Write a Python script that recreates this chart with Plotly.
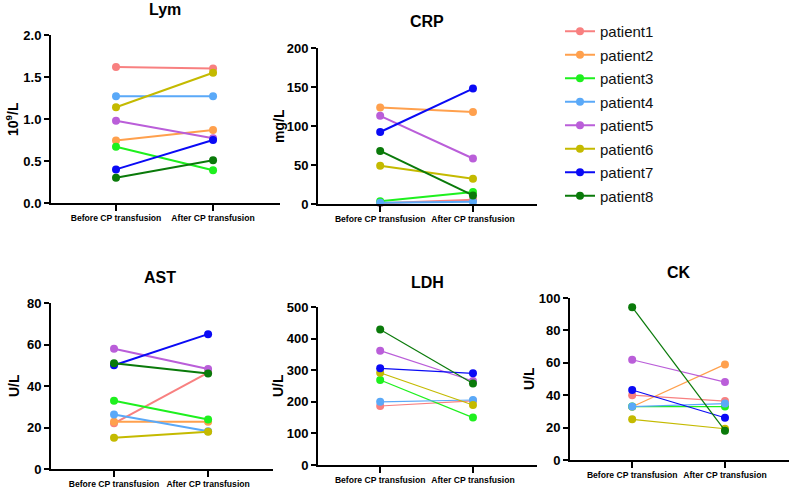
import plotly.graph_objects as go

categories = ["Before CP transfusion", "After CP transfusion"]
patients = ["patient1", "patient2", "patient3", "patient4",
            "patient5", "patient6", "patient7", "patient8"]
colors = ["#F88080", "#FFA04D", "#1EF01E", "#5AA9F8",
          "#BA5ED9", "#C4BA00", "#0A0AF5", "#0A7A0A"]

# values per patient: [before, after]
lym = [[1.62, 1.60], [0.745, 0.87], [0.67, 0.39], [1.27, 1.27],
       [0.98, 0.77], [1.14, 1.55], [0.40, 0.75], [0.30, 0.51]]
crp = [[1.0, 5.5], [123.8, 118.0], [3.4, 15.3], [1.7, 2.8],
       [113.0, 58.3], [48.9, 32.3], [92.3, 148.0], [68.0, 11.0]]
ast = [[22.0, 46.5], [22.8, 22.8], [32.9, 23.9], [26.3, 18.2],
       [58.0, 48.2], [15.1, 18.0], [50.0, 65.0], [51.0, 46.0]]
ldh = [[186.7, 203.0], [None, None], [269.0, 150.0], [200.0, 205.7],
       [361.8, 265.8], [292.0, 190.0], [306.0, 290.0], [429.0, 258.0]]
ck = [[40.0, 36.4], [32.9, 59.0], [33.0, 33.0], [33.0, 34.8],
      [61.9, 48.1], [25.1, 19.3], [43.2, 26.1], [94.3, 18.1]]

panels = [
    # name, data, unit, yrange, dtick, fmt, xdomain(px), ydomain(px top,bottom), line width, ytitle x
    ("Lym", lym, "10<sup>9</sup>/L", [0, 2], 0.5, ".1f", (51, 280), (35, 203), 2, 12),
    ("CRP", crp, "mg/L", [0, 200], 50, "d", (318, 537), (48, 204), 2, 279),
    ("AST", ast, "U/L", [0, 80], 20, "d", (51, 273), (303, 469), 2, 14),
    ("LDH", ldh, "U/L", [0, 500], 100, "d", (318, 537), (307, 465), 1.2, 278),
    ("CK", ck, "U/L", [0, 100], 20, "d", (570, 789), (298, 460), 1.2, 529),
]
title_pos = [(165, 10), (427, 22), (160, 277), (427, 282), (679, 272)]

W, H = 789, 488
FONT = "Liberation Sans, Arial, sans-serif"

fig = go.Figure()
annotations = []
for k, (name, data, unit, yr, dt, fmt, xd, yd, lw, ytx) in enumerate(panels):
    ax = "" if k == 0 else str(k + 1)
    for i, p in enumerate(patients):
        fig.add_trace(go.Scatter(
            x=categories, y=data[i], mode="lines+markers",
            name=p, legendgroup=p, showlegend=(k == 0),
            line=dict(color=colors[i], width=lw),
            marker=dict(color=colors[i], size=8),
            cliponaxis=False,
            xaxis="x" + ax, yaxis="y" + ax,
        ))
    fig.layout["xaxis" + ax] = dict(
        domain=[xd[0] / W, xd[1] / W], anchor="y" + ax,
        type="category", categoryorder="array", categoryarray=categories,
        range=[-0.67, 1.69], showgrid=False, zeroline=False,
        showline=True, linecolor="black", linewidth=2,
        ticks="outside", ticklen=6, tickwidth=2, tickcolor="black",
        tickangle=0, automargin=False,
        tickfont=dict(family=FONT, size=8.6, color="black", weight="bold"),
        fixedrange=True,
    )
    fig.layout["yaxis" + ax] = dict(
        domain=[1 - yd[1] / H, 1 - yd[0] / H], anchor="x" + ax,
        range=yr, dtick=dt, tickformat=fmt, showgrid=False, zeroline=False,
        showline=True, linecolor="black", linewidth=2,
        ticks="outside", ticklen=5, tickwidth=2, tickcolor="black",
        automargin=False,
        tickfont=dict(family=FONT, size=13, color="black", weight="bold"),
        fixedrange=True,
    )
    tx, ty = title_pos[k]
    annotations.append(dict(
        text="<b>" + name + "</b>", x=tx / W, y=1 - ty / H, xref="paper", yref="paper",
        xanchor="center", yanchor="middle", showarrow=False,
        font=dict(family=FONT, size=16, color="black"),
    ))
    annotations.append(dict(
        text="<b>" + unit + "</b>", x=ytx / W, y=1 - (yd[0] + yd[1]) / 2 / H,
        xref="paper", yref="paper", xanchor="center", yanchor="middle",
        textangle=-90, showarrow=False,
        font=dict(family=FONT, size=14, color="black"),
    ))

fig.update_layout(
    width=W, height=H,
    margin=dict(l=0, r=0, t=0, b=0, autoexpand=False),
    paper_bgcolor="white", plot_bgcolor="white",
    annotations=annotations,
    showlegend=True,
    legend=dict(
        x=560 / W, y=1 - 15 / H, xanchor="left", yanchor="top",
        font=dict(family=FONT, size=15, color="#111111"),
        tracegroupgap=1, bgcolor="rgba(0,0,0,0)",
    ),
)

fig.write_html(
    "out.html",
    config={"displayModeBar": False},
    post_script="document.body.style.margin='0px';document.body.style.overflow='hidden';",
)
